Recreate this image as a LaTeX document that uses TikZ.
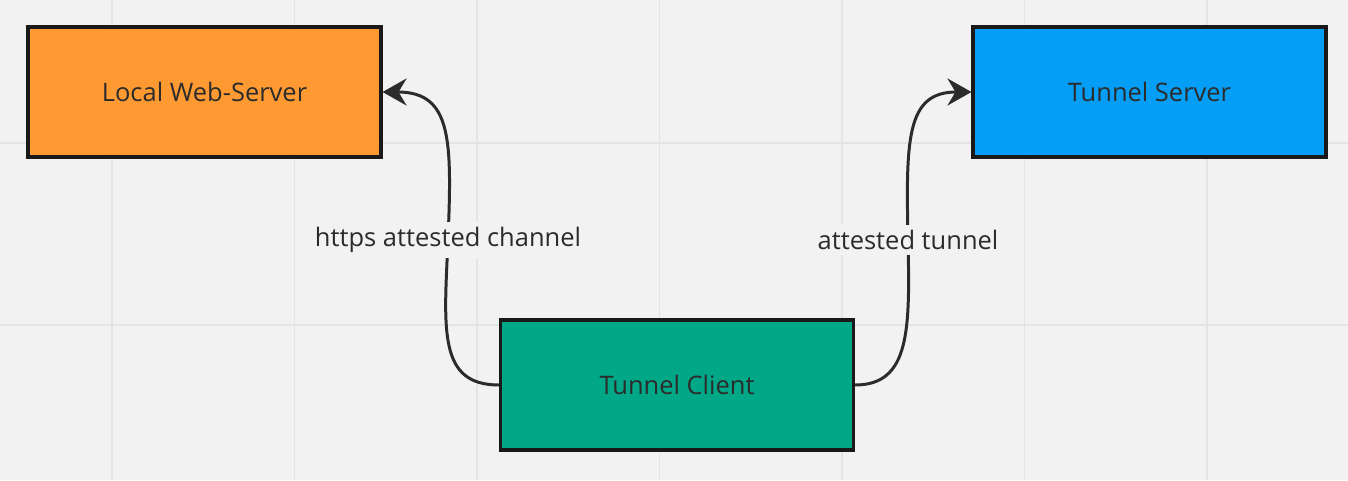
\documentclass[tikz,border=0pt]{standalone}
\usepackage{fontspec}
\setmainfont{Open Sans}
\usepackage{tikz}
\usetikzlibrary{arrows.meta,positioning}

\definecolor{boardbg}{HTML}{F2F2F2}
\definecolor{gridline}{HTML}{E4E4E4}
\definecolor{weborange}{HTML}{FF9A33}
\definecolor{serverblue}{HTML}{049EF6}
\definecolor{clientgreen}{HTML}{00A888}
\definecolor{inkdark}{HTML}{2B2B2B}

\begin{document}
\begin{tikzpicture}[
  x=0.02cm, y=-0.02cm,
  font=\fontsize{14.5}{17}\selectfont, text=inkdark,
  block/.style={rectangle, draw=black!90, line width=1.8pt, minimum width=7.06cm, minimum height=2.6cm},
  arrow/.style={-{Stealth[length=0.48cm,width=0.54cm,inset=0.16cm]}, line width=1.7pt, draw=inkdark},
  edgelabel/.style={fill=boardbg, inner sep=3pt}
]

% board
\fill[boardbg] (0,0) rectangle (1348,480);
\useasboundingbox (0,0) rectangle (1348,480);
\foreach \gx in {112,294.5,477,659.5,842,1024.5,1207}
  \draw[gridline, line width=1pt] (\gx,0) -- (\gx,480);
\foreach \gy in {143,325}
  \draw[gridline, line width=1pt] (0,\gy) -- (1348,\gy);

\node[block, fill=weborange] (webserver) at (204.5, 92) {Local Web-Server};
\node[block, fill=serverblue] (tunserver) at (1149.5, 92) {Tunnel Server};
\node[block, fill=clientgreen] (tunclient) at (677, 385) {Tunnel Client};

\draw[arrow] (tunclient.west) .. controls (438,385) and (444,330) .. (448,240)
  node[edgelabel] {https attested channel}
  .. controls (452,140) and (452,92) .. (webserver.east);
\draw[arrow] (tunclient.east) .. controls (910,385) and (910,330) .. (908,240)
  node[edgelabel] {attested tunnel}
  .. controls (906,140) and (906,92) .. (tunserver.west);

\end{tikzpicture}
\end{document}
